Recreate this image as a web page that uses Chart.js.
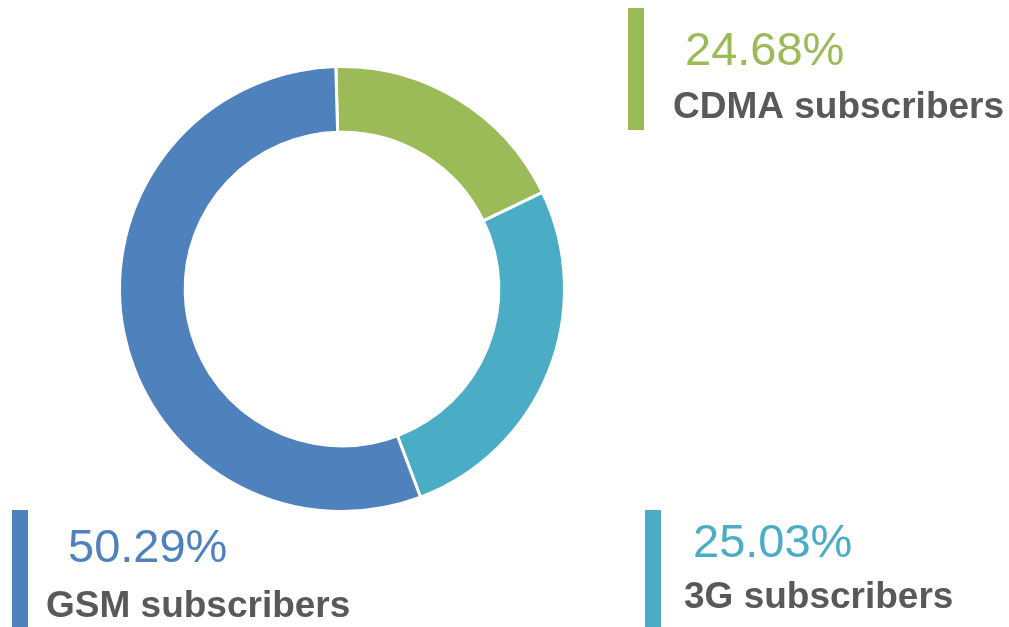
<!DOCTYPE html>
<html>
<head>
<meta charset="utf-8">
<script src="https://cdn.jsdelivr.net/npm/chart.js@4/dist/chart.umd.min.js"></script>
<style>
    html, body { margin: 0; padding: 0; background: #ffffff; }
    #wrap { width: 1009px; height: 627px; position: relative; }
</style>
</head>
<body>
<div id="wrap"><canvas id="subscribers"></canvas></div>
<script>
// segment order goes clockwise from the top
const categories = ["CDMA subscribers", "3G subscribers", "GSM subscribers"];
const shares = [18.3, 26.4, 55.3];
const shareLabels = ["24.68%", "25.03%", "50.29%"];

const colors = ["#9bbb59", "#4bacc6", "#4f81bd"];

// where each callout goes: bar x, bar top/bottom, percent text, name text
const callouts = [
    { bar: [628, 8, 130], pct: [685, 65], name: [673, 118] },
    { bar: [645, 510, 627], pct: [693, 557], name: [684, 608] },
    { bar: [12, 510, 627], pct: [68, 562], name: [46, 617] }
];

const calloutPlugin = {
    id: "callouts",
    afterDraw(chart) {
        let ctx = chart.ctx;
        ctx.save();
        callouts.forEach((c, i) => {
            ctx.fillStyle = colors[i];
            ctx.fillRect(c.bar[0], c.bar[1], 16, c.bar[2] - c.bar[1]);

            ctx.textAlign = "left";
            ctx.textBaseline = "alphabetic";
            ctx.font = "47px 'Liberation Sans', Arial, sans-serif";
            ctx.fillText(shareLabels[i], c.pct[0], c.pct[1]);

            ctx.fillStyle = "#595959";
            ctx.font = "bold 37px 'Liberation Sans', Arial, sans-serif";
            ctx.fillText(categories[i], c.name[0], c.name[1]);
        });
        ctx.restore();
    }
};

let ctx = document.getElementById("subscribers").getContext("2d");

let chartSubscribers = new Chart(ctx, {
    type: "doughnut",
    data: {
        labels: categories,
        datasets: [
            {
                data: shares,
                backgroundColor: colors,
                borderColor: "#ffffff",
                borderWidth: 3,
                hoverOffset: 0
            }
        ]
    },
    options: {
        responsive: true,
        maintainAspectRatio: false,
        animation: false,
        cutout: "70.5%",
        rotation: -1.6,
        layout: {
            padding: { left: 118, right: 443, top: 65, bottom: 114 }
        },
        plugins: {
            legend: { display: false },
            tooltip: { enabled: false }
        }
    },
    plugins: [calloutPlugin]
});
</script>
</body>
</html>
